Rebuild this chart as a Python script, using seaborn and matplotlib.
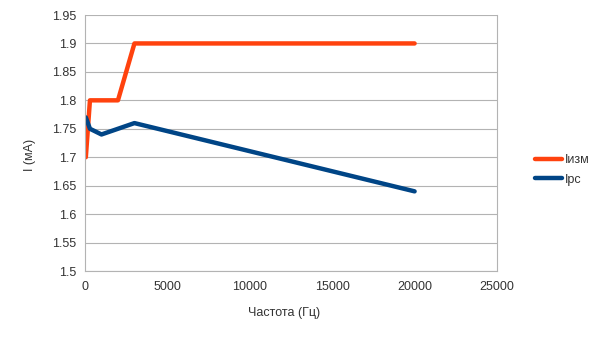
import matplotlib
matplotlib.use("Agg")
import matplotlib.pyplot as plt
import seaborn as sns
import pandas as pd

freq = [50, 300, 1000, 2000, 3000, 20000]
i_izm = [1.70, 1.80, 1.80, 1.80, 1.90, 1.90]
i_rc = [1.77, 1.75, 1.74, 1.75, 1.76, 1.64]
series_names = ["Iизм", "Iрс"]
colors = ["#ff420e", "#004586"]

df = pd.DataFrame({
    "f": freq * 2,
    "I": i_izm + i_rc,
    "s": [series_names[0]] * len(freq) + [series_names[1]] * len(freq),
})

sns.set_style("white")
plt.rcParams["font.family"] = ["Liberation Sans", "DejaVu Sans"]

fig = plt.figure(figsize=(6.05, 3.4), dpi=100)
ax = fig.add_axes([85 / 605, 1 - 271 / 340, (497 - 85) / 605, (271 - 15) / 340])
sns.lineplot(data=df, x="f", y="I", hue="s", palette=colors, linewidth=3.2,
             ax=ax, sort=False, estimator=None)

ax.set_xlim(0, 25000)
ax.set_ylim(1.5, 1.95)
ax.set_xticks(range(0, 25001, 5000))
yt = [1.5 + 0.05 * k for k in range(10)]
ax.set_yticks(yt)
ax.set_yticklabels([("%.2f" % v).rstrip("0").rstrip(".") for v in yt])
ax.yaxis.grid(True, color="#b3b3b3", linewidth=0.8)
ax.set_axisbelow(True)
ax.spines["top"].set_visible(False)
for s in ["left", "bottom", "right"]:
    ax.spines[s].set_color("#b3b3b3")
    ax.spines[s].set_linewidth(0.8)
ax.tick_params(axis="both", length=4, width=0.8, color="#b3b3b3",
               labelsize=9, labelcolor="#333333", direction="out")
ax.tick_params(axis="y", pad=2)
ax.set_xlabel("")
ax.set_ylabel("")
fig.text(284 / 605, 1 - 313 / 340, "Частота (Гц)", fontsize=9, color="#333333",
         ha="center", va="center")
fig.text(30 / 605, 1 - 155 / 340, "I (мА)", fontsize=9, color="#333333",
         ha="center", va="center", rotation=90)

h, l = ax.get_legend_handles_labels()
leg = ax.legend(h, l, loc="center left", bbox_to_anchor=(524 / 605, 1 - 170 / 340),
                bbox_transform=fig.transFigure, frameon=False, fontsize=9,
                handlelength=2.1, handletextpad=0.3, labelspacing=0.6)
for t in leg.get_texts():
    t.set_color("#333333")

fig.savefig("out.png", dpi=100)
